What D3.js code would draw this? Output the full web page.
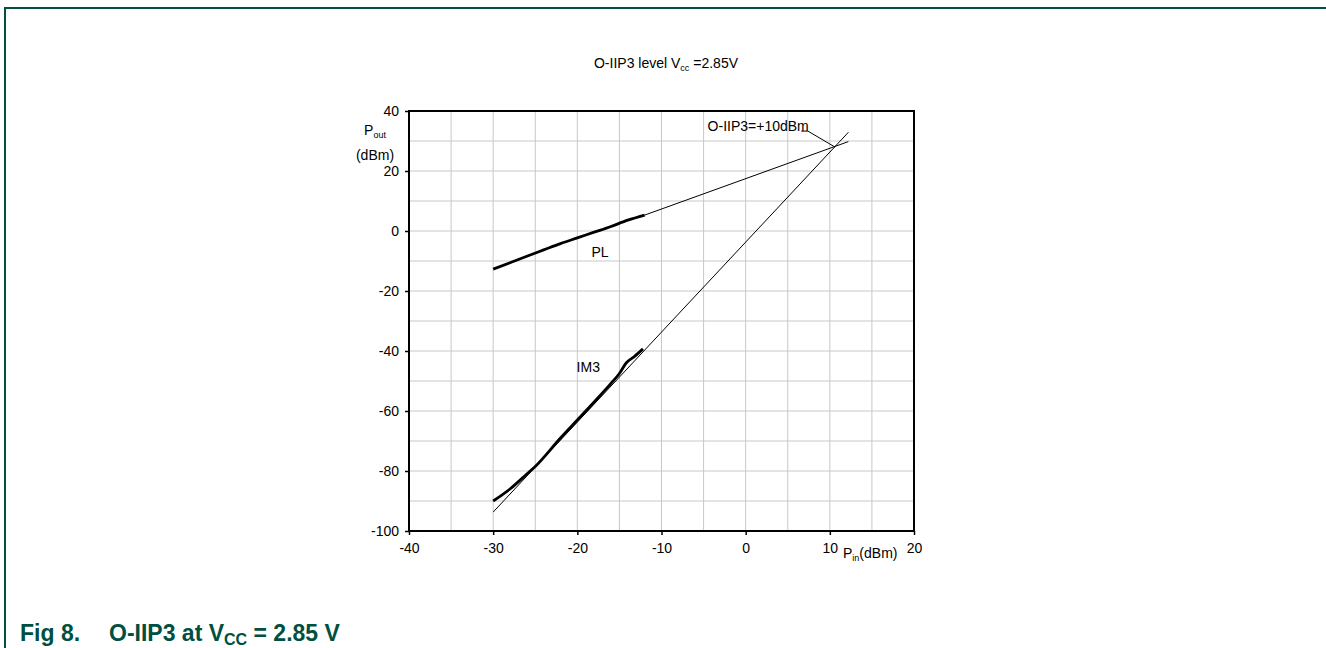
<!DOCTYPE html>
<html><head><meta charset="utf-8">
<script src="https://cdn.jsdelivr.net/npm/d3@7"></script>
<style>
html,body{margin:0;padding:0;background:#fff;}
svg{display:block;}
text{font-family:"Liberation Sans",Arial,sans-serif;}
</style></head>
<body>
<svg id="chart" width="1326" height="648"></svg>
<script>
// ---- data ----
const xTicks = [-40, -30, -20, -10, 0, 10, 20];
const yTicks = [-100, -80, -60, -40, -20, 0, 20, 40];
const plX = [-30, -28, -26, -24, -22, -20, -18, -16, -14, -12];
const plY = [-12.7, -10.6, -8.4, -6.3, -4.2, -2.3, -0.4, 1.5, 3.6, 5.3];
const plFitX = [-12, 12.2];
const plFitY = [5.3, 29.8];
const im3X = [-30, -28, -26, -25, -22, -20, -18, -16, -15, -14.2, -13.2, -12.2];
const im3Y = [-90, -86, -81, -78.5, -69, -63, -57, -50.8, -47.5, -44, -41.8, -39.3];
const im3FitX = [-30, 12.2];
const im3FitY = [-93.7, 32.9];
const ip3X = 10.6, ip3Y = 28.0;

const FS = "14px";
const svg = d3.select("#chart");
const x = d3.scaleLinear().domain([-40, 20]).range([409, 914]);
const y = d3.scaleLinear().domain([-100, 40]).range([531, 111]);

// frame
const frameColor = "#00503f";
svg.append("path").attr("d", "M5,648 L5,8 L1326,8")
  .attr("fill", "none").attr("stroke", frameColor).attr("stroke-width", 2);

// grid
const gx = d3.range(-35, 20, 5), gy = d3.range(-90, 40, 10);
svg.append("g").selectAll("line").data(gx).join("line")
  .attr("x1", d => x(d)).attr("x2", d => x(d)).attr("y1", y(-100)).attr("y2", y(40))
  .attr("stroke", "#c8c8c8").attr("stroke-width", 1);
svg.append("g").selectAll("line").data(gy).join("line")
  .attr("y1", d => y(d)).attr("y2", d => y(d)).attr("x1", x(-40)).attr("x2", x(20))
  .attr("stroke", "#c8c8c8").attr("stroke-width", 1);

// axes
const fmt = d => String(d);
const xAxis = d3.axisBottom(x).tickValues(xTicks).tickSize(4).tickPadding(8).tickFormat(fmt);
const yAxis = d3.axisLeft(y).tickValues(yTicks).tickSize(4).tickPadding(6).tickFormat(fmt);
const gxa = svg.append("g").attr("transform", `translate(0,${y(-100)})`).call(xAxis);
const gya = svg.append("g").attr("transform", `translate(${x(-40)},0)`).call(yAxis);
[gxa, gya].forEach(g => {
  g.select(".domain").remove();
  g.selectAll(".tick line").attr("stroke", "#000").attr("stroke-width", 1.5);
  g.selectAll(".tick text").attr("fill", "#000").style("font-size", FS)
   .style("font-family", '"Liberation Sans",Arial,sans-serif');
});
// box
svg.append("rect").attr("x", x(-40)).attr("y", y(40))
  .attr("width", x(20) - x(-40)).attr("height", y(-100) - y(40))
  .attr("fill", "none").attr("stroke", "#000").attr("stroke-width", 2);

const line = d3.line().x(d => x(d[0])).y(d => y(d[1]));
const zip = (a, b) => a.map((v, i) => [v, b[i]]);

svg.append("path").datum(zip(plFitX, plFitY)).attr("d", line)
  .attr("fill", "none").attr("stroke", "#000").attr("stroke-width", 1);
svg.append("path").datum(zip(im3FitX, im3FitY)).attr("d", line)
  .attr("fill", "none").attr("stroke", "#000").attr("stroke-width", 1);
const smooth = d3.line().x(d => x(d[0])).y(d => y(d[1])).curve(d3.curveMonotoneX);
svg.append("path").datum(zip(plX, plY)).attr("d", smooth)
  .attr("fill", "none").attr("stroke", "#000").attr("stroke-width", 2.8);
svg.append("path").datum(zip(im3X, im3Y)).attr("d", smooth)
  .attr("fill", "none").attr("stroke", "#000").attr("stroke-width", 2.8);

// annotation
svg.append("path")
  .attr("d", `M${x(6.6)},${y(33.3)} L${x(7.4)},${y(33.3)} L${x(ip3X)},${y(ip3Y)}`)
  .attr("fill", "none").attr("stroke", "#000").attr("stroke-width", 1);
svg.append("text").attr("x", x(7.5)).attr("y", y(33.3) - 0.5).attr("text-anchor", "end")
  .style("font-size", FS).text("O-IIP3=+10dBm");
svg.append("text").attr("x", x(-17.3)).attr("y", y(-7) + 5).attr("text-anchor", "middle")
  .style("font-size", FS).text("PL");
svg.append("text").attr("x", x(-18.7)).attr("y", y(-45.3) + 5).attr("text-anchor", "middle")
  .style("font-size", FS).text("IM3");

// title
const t = svg.append("text").attr("x", 666).attr("y", 68).attr("text-anchor", "middle").style("font-size", FS);
t.append("tspan").text("O-IIP3 level V");
t.append("tspan").attr("dy", 3).style("font-size", "9px").text("cc");
t.append("tspan").attr("dy", -3).text(" =2.85V");

// y label
const yl = svg.append("text").attr("x", 375).attr("y", 135).attr("text-anchor", "middle").style("font-size", FS);
yl.append("tspan").text("P");
yl.append("tspan").attr("dy", 3).style("font-size", "9px").text("out");
svg.append("text").attr("x", 375).attr("y", 160).attr("text-anchor", "middle").style("font-size", FS).text("(dBm)");

// x label
const xl = svg.append("text").attr("x", 843).attr("y", 558).style("font-size", FS);
xl.append("tspan").text("P");
xl.append("tspan").attr("dy", 3).style("font-size", "9px").text("in");
xl.append("tspan").attr("dy", -3).text("(dBm)");

// caption
const cap = svg.append("text").attr("x", 20).attr("y", 641).attr("fill", frameColor)
  .style("font-size", "23px").style("font-weight", "bold");
cap.append("tspan").text("Fig 8.");
cap.append("tspan").attr("x", 109).text("O-IIP3 at V");
cap.append("tspan").attr("dy", 4).style("font-size", "16px").text("CC");
cap.append("tspan").attr("dy", -4).text(" = 2.85 V");
</script>
</body></html>
